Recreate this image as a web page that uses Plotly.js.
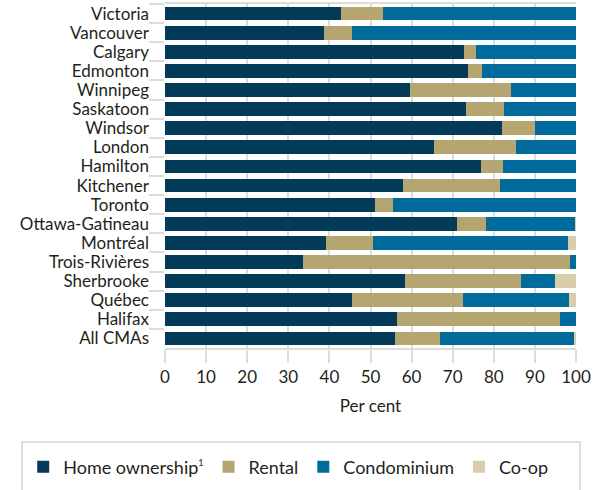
<!DOCTYPE html>
<html>
<head>
<meta charset="utf-8">
<script src="https://cdn.plot.ly/plotly-3.0.1.min.js"></script>
<style>html,body{margin:0;padding:0;background:#fff;}#chart{width:603px;height:490px;}</style>
</head>
<body>
<div id="chart"></div>
<script>
var categories = ["Victoria","Vancouver","Calgary","Edmonton","Winnipeg","Saskatoon","Windsor","London","Hamilton","Kitchener","Toronto","Ottawa-Gatineau","Montréal","Trois-Rivières","Sherbrooke","Québec","Halifax","All CMAs"];
var homeOwnership = [42.9,38.8,72.8,73.8,59.5,73.3,82.0,65.5,77.0,58.0,51.1,71.1,39.2,33.6,58.4,45.5,56.5,56.0];
var rental        = [10.2,6.7,2.9,3.4,24.8,9.3,8.1,20.0,5.3,23.6,4.4,7.1,11.5,65.0,28.3,27.1,39.6,10.9];
var condominium   = [46.9,54.5,24.3,22.8,15.7,17.4,9.9,14.5,17.7,18.4,44.5,21.6,47.4,1.4,8.1,25.8,3.9,32.7];
var coop          = [0,0,0,0,0,0,0,0,0,0,0,0.2,1.9,0,5.2,1.6,0,0.4];
var seriesNames = ["Home ownership<sup><span style=\"font-size:9px\">1</span></sup>","Rental","Condominium","Co-op"];
var seriesColors = ["#023a58","#b5a571","#006a9b","#d9cdac"];
var xTicks = [0,10,20,30,40,50,60,70,80,90,100];

var seriesValues = [homeOwnership, rental, condominium, coop];
var traces = seriesValues.map(function(vals, i){
  return {type:'bar', orientation:'h', name: seriesNames[i], x: vals, y: categories,
          marker:{color: seriesColors[i], line:{width:0}}, hoverinfo:'x+y+name'};
});

var font = {family:'Lato, "Open Sans", sans-serif', size:17, color:'#231f20'};
var legendFont = {family:'Lato, "Open Sans", sans-serif', size:18, color:'#231f20'};
var grid = '#dcdcdc';
var layout = {
  width:603, height:490,
  margin:{l:165, r:27, t:4, b:138, pad:0},
  barmode:'stack', bargap:0.28,
  paper_bgcolor:'#fff', plot_bgcolor:'#fff',
  font: font,
  xaxis:{range:[0,100], tickvals:xTicks, ticktext:xTicks.map(String), ticks:'outside', ticklen:13, tickwidth:2, tickcolor:grid,
         showgrid:true, gridcolor:grid, gridwidth:2, zeroline:false,
         showline:true, mirror:true, linecolor:grid, linewidth:2,
         tickfont:font, title:{text:'Per cent', font:font, standoff:14}, fixedrange:true},
  yaxis:{type:'category', autorange:'reversed', tickmode:'linear', tick0:0, dtick:1, tickson:'boundaries', ticks:'outside', ticklen:15, tickwidth:2, tickcolor:grid,
         ticklabelstandoff:15, showgrid:false, zeroline:false, showline:false, tickfont:font, fixedrange:true},
  showlegend:true,
  legend:{orientation:'h', x:-0.345, xanchor:'left', y:-0.292, yanchor:'top', traceorder:'normal',
          font:legendFont, bgcolor:'rgba(0,0,0,0)', borderwidth:0, itemclick:false, itemdoubleclick:false},
  shapes:[{type:'rect', xref:'paper', yref:'paper', x0:-0.348, x1:1.0097, y0:-0.273, y1:-0.42,
           line:{color:'#dde0df', width:2}, fillcolor:'rgba(0,0,0,0)', layer:'below'}]
};
Plotly.newPlot('chart', traces, layout, {displayModeBar:false, staticPlot:false});
</script>
</body>
</html>
